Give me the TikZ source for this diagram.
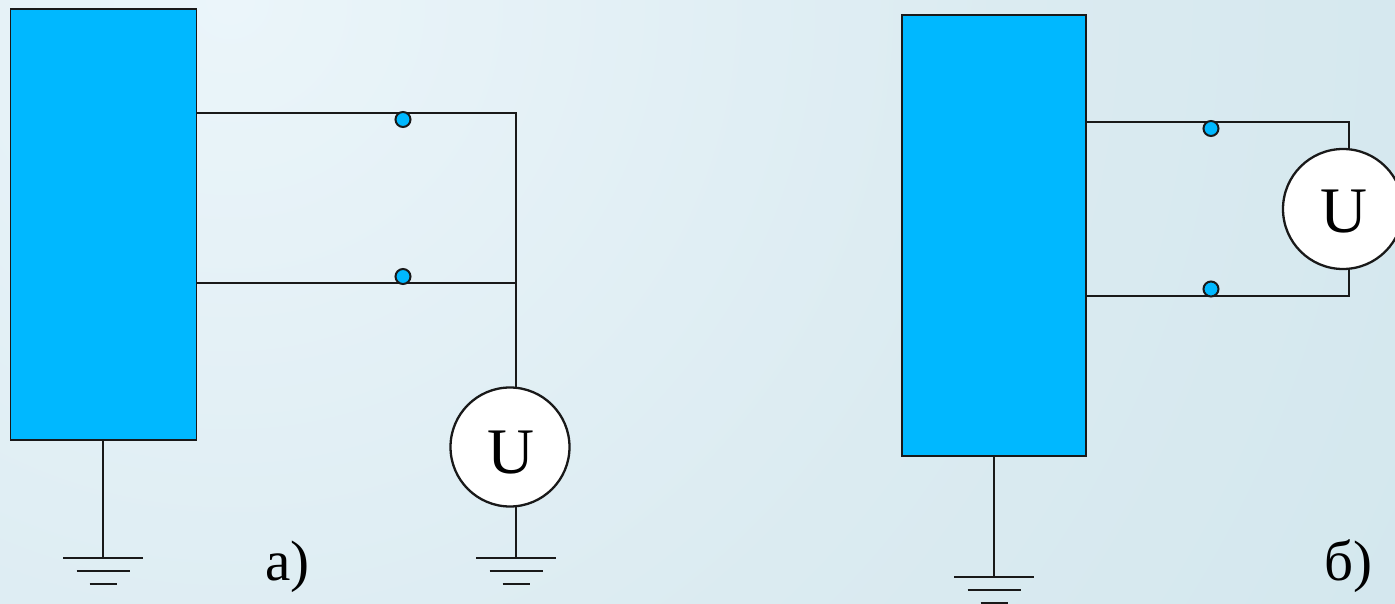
\documentclass[tikz,border=0pt]{standalone}
\usepackage{fontspec}
\setmainfont{Liberation Serif}
\definecolor{boxblue}{HTML}{00B8FF}
\definecolor{bgA}{HTML}{EBF5FA}
\definecolor{bgB}{HTML}{DBEBF1}
\definecolor{bgC}{HTML}{C2DEE6}
\pgfdeclareradialshading{bgshade}{\pgfpoint{0bp}{0bp}}{color(0bp)=(bgA);color(15bp)=(bgB);color(50bp)=(bgC);color(100bp)=(bgC)}
\tikzset{
  wire/.style={line width=2.3pt,draw=black!90},
  block/.style={rectangle,draw=black!90,line width=1.5pt,fill=boxblue,inner sep=0pt,outer sep=0pt},
  probe/.style={circle,draw=black!90,line width=2pt,fill=boxblue,inner sep=0pt,outer sep=0pt,minimum size=15pt},
  meter/.style={circle,draw=black!90,line width=2.3pt,fill=white,inner sep=0pt,outer sep=0pt,minimum size=119pt},
  metertext/.style={inner sep=0pt,outer sep=0pt,font=\fontsize{65}{65}\selectfont},
  caption/.style={inner sep=0pt,outer sep=0pt,font=\fontsize{57}{57}\selectfont}
}
\begin{document}
\begin{tikzpicture}[x=1pt,y=-1pt]
\useasboundingbox (0,0) rectangle (1395,604);
\begin{scope}
\clip (0,0) rectangle (1395,604);
\path[shading=bgshade] (-1070,-1300) rectangle (1530,1300);

% blocks
\node[block,minimum width=186pt,minimum height=431pt] (boxa) at (103.5,224.5) {};
\node[block,minimum width=184pt,minimum height=441pt] (boxb) at (994,235.5) {};

% meters
\node[meter] (ma) at (510,447) {};
\node[meter,minimum size=120pt] (mb) at (1343,209) {};
\node[metertext] (ua) at (510.5,452.5) {U};
\node[metertext] (ub) at (1344,212) {U};

% named junctions
\coordinate (a1s) at (boxa.east |- 0,113);
\coordinate (a2s) at (boxa.east |- 0,283);
\coordinate (a1c) at (516,113);
\coordinate (a2c) at (516,283);
\coordinate (amt) at (516,388);
\coordinate (amb) at (516,506);
\coordinate (b1s) at (boxb.east |- 0,122);
\coordinate (b2s) at (boxb.east |- 0,296);
\coordinate (b1c) at (1349,122);
\coordinate (b2c) at (1349,296);
\coordinate (bmt) at (1349,149.5);
\coordinate (bmb) at (1349,268.5);
\coordinate (ga) at (103,558);
\coordinate (gb) at (516,558);
\coordinate (gc) at (994,577);

% wires
\draw[wire] (a1s) -- (a1c) -- (amt);
\draw[wire] (a2s) -- (a2c);
\draw[wire] (amb) -- (gb);
\draw[wire] (b1s) -- (b1c) -- (bmt);
\draw[wire] (b2s) -- (b2c) -- (bmb);
\draw[wire] (boxa.south -| ga) -- (ga);
\draw[wire] (boxb.south -| gc) -- (gc);

% grounds
\foreach \g in {ga,gb,gc}{
  \draw[wire] ([xshift=-40pt]\g) -- ([xshift=40pt]\g);
  \draw[wire] ([xshift=-26.5pt,yshift=-13pt]\g) -- ([xshift=26.5pt,yshift=-13pt]\g);
  \draw[wire] ([xshift=-13.5pt,yshift=-26pt]\g) -- ([xshift=13.5pt,yshift=-26pt]\g);
}

% probes
\node[probe] (pa1) at (403,119.5) {};
\node[probe] (pa2) at (403,276.5) {};
\node[probe] (pb1) at (1211,128.5) {};
\node[probe] (pb2) at (1211,289) {};

% captions
\node[caption,anchor=base] (capa) at (287.5,580) {а)};
\node[caption,anchor=base] (capb) at (1348.5,580) {б)};
\end{scope}
\end{tikzpicture}
\end{document}
